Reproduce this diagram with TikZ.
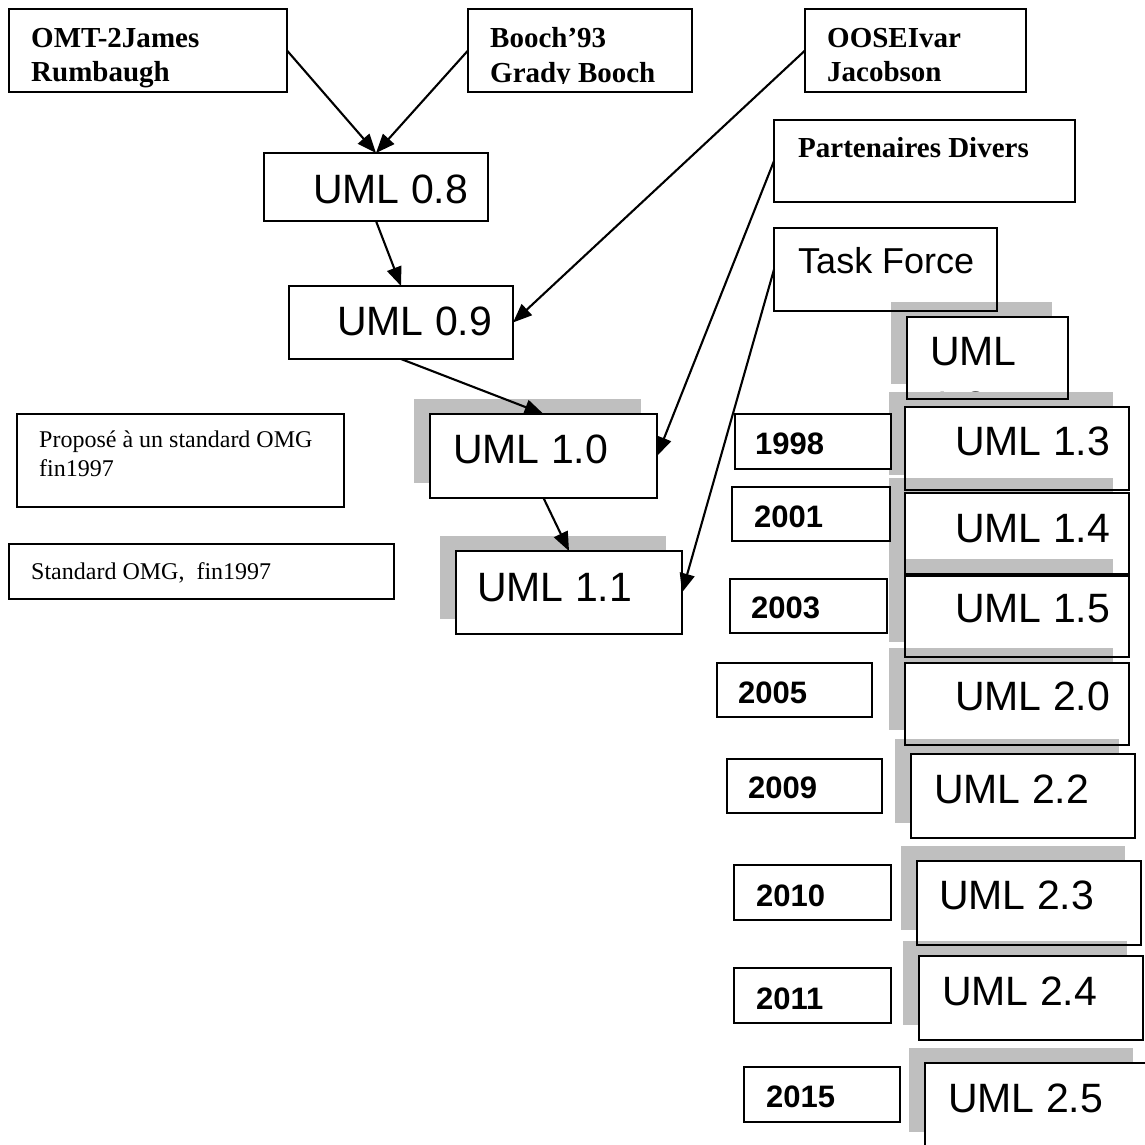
\documentclass[tikz,border=0pt]{standalone}
\usepackage{fontspec}
\setmainfont{Liberation Serif}
\newfontfamily\arialfont{Liberation Sans}
\usetikzlibrary{arrows.meta,shadows,calc}
\definecolor{shade}{gray}{0.75}

\tikzset{
  box/.style={draw=black, line width=1.8pt, fill=white, rectangle,
              inner sep=0pt, outer sep=0pt, anchor=north west},
  shaded/.style={general shadow={fill=shade, shadow xshift=-16pt, shadow yshift=15pt}},
  umltxt/.style={anchor=base west, inner sep=0pt, font=\arialfont\fontsize{41}{49}\selectfont},
  yeartxt/.style={anchor=base west, inner sep=0pt, font=\arialfont\bfseries\fontsize{31}{37}\selectfont},
  headtxt/.style={anchor=base west, inner sep=0pt, font=\bfseries\fontsize{29}{34}\selectfont},
  notetxt/.style={anchor=base west, inner sep=0pt, font=\fontsize{24}{29}\selectfont},
  link/.style={line width=2.1pt, -{Triangle[length=19pt,width=15pt]}},
  rim/.style={draw=black, line width=1.8pt},
}

\begin{document}
\begin{tikzpicture}[x=1pt, y=-1pt]
\useasboundingbox (0,0) rectangle (1145,1144);
\fill[white] (0,0) rectangle (1145,1144);
\clip (0,0) rectangle (1145,1144);

% ---- origins ----
\node[box, minimum width=278pt, minimum height=83pt] (omt) at (9,9) {};
\begin{scope}
  \clip (9,9) rectangle (287,89);
  \node[headtxt] (omt1) at (31,47) {OMT-2James};
  \node[headtxt] (omt2) at (31,81) {Rumbaugh};
\end{scope}

\node[box, minimum width=224pt, minimum height=83pt] (booch) at (468,9) {};
\begin{scope}
  \clip (468,9) rectangle (692,83);
  \node[headtxt] (booch1) at (490,47) {Booch’93};
  \node[headtxt] (booch2) at (490,82) {Grady Booch};
\end{scope}

\node[box, minimum width=221pt, minimum height=83pt] (oose) at (805,9) {};
\begin{scope}
  \clip (805,9) rectangle (1026,89);
  \node[headtxt] (oose1) at (827,47) {OOSEIvar};
  \node[headtxt] (oose2) at (827,81) {Jacobson};
\end{scope}

\node[box, minimum width=301pt, minimum height=82pt] (part) at (774,120) {};
\node[headtxt] (partt) at (798,157) {Partenaires Divers};

\node[box, minimum width=223pt, minimum height=83pt] (task) at (774,228) {};
\node[umltxt, font=\arialfont\fontsize{36}{43}\selectfont] (taskt) at (798,273) {Task Force};

% ---- first versions ----
\node[box, minimum width=224pt, minimum height=68pt] (u08) at (264,153) {};
\node[umltxt] (u08t) at (313,203) {UML 0.8};

\node[box, minimum width=224pt, minimum height=73pt] (u09) at (289,286) {};
\node[umltxt] (u09t) at (337,335) {UML 0.9};

\node[box, shaded, minimum width=227pt, minimum height=84pt] (u10) at (430,414) {};
\node[umltxt] (u10t) at (453,463) {UML 1.0};

\node[box, shaded, minimum width=226pt, minimum height=83pt] (u11) at (456,551) {};
\node[umltxt] (u11t) at (477,601) {UML 1.1};

% ---- notes ----
\node[box, minimum width=327pt, minimum height=93pt] (prop) at (17,414) {};
\node[notetxt] (prop1) at (39,447) {Proposé à un standard OMG};
\node[notetxt] (prop2) at (39,476) {fin1997};

\node[box, minimum width=385pt, minimum height=55pt] (std) at (9,544) {};
\node[notetxt] (stdt) at (31,579) {Standard OMG,\ \ fin1997};

% ---- later versions ----
\node[box, shaded, minimum width=161pt, minimum height=82pt] (u12) at (907,317) {};
\begin{scope}
  \clip (907,317) rectangle (1068,397);
  \node[umltxt] (u12a) at (930,365) {UML};
  \node[umltxt] (u12b) at (930,420) {1.2};
\end{scope}

\node[box, shaded, minimum width=224pt, minimum height=83pt] (u13) at (905,407) {};
\node[umltxt] (u13t) at (955,455) {UML 1.3};

\node[box, shaded, minimum width=224pt, minimum height=83pt] (u14) at (905,493) {};
\node[umltxt] (u14t) at (955,542) {UML 1.4};

\node[box, shaded, minimum width=224pt, minimum height=83pt] (u15) at (905,574) {};
\node[umltxt] (u15t) at (955,622) {UML 1.5};

\node[box, shaded, minimum width=224pt, minimum height=82pt] (u20) at (905,663) {};
\node[umltxt] (u20t) at (955,710) {UML 2.0};

\node[box, shaded, minimum width=224pt, minimum height=84pt] (u22) at (911,754) {};
\node[umltxt] (u22t) at (934,803) {UML 2.2};

\node[box, shaded, minimum width=224pt, minimum height=84pt] (u23) at (917,861) {};
\node[umltxt] (u23t) at (939,909) {UML 2.3};

\node[box, shaded, minimum width=224pt, minimum height=84pt] (u24) at (919,956) {};
\node[umltxt] (u24t) at (942,1005) {UML 2.4};

\node[box, shaded, minimum width=224pt, minimum height=84pt] (u25) at (925,1063) {};
\node[umltxt] (u25t) at (948,1112) {UML 2.5};

% ---- years ----
\node[box, minimum width=156pt, minimum height=55pt] (y98) at (735,414) {};
\node[yeartxt] (y98t) at (755,454) {1998};
\node[box, minimum width=158pt, minimum height=54pt] (y01) at (732,487) {};
\node[yeartxt] (y01t) at (754,527) {2001};
\node[box, minimum width=157pt, minimum height=54pt] (y03) at (730,579) {};
\node[yeartxt] (y03t) at (751,618) {2003};
\node[box, minimum width=155pt, minimum height=54pt] (y05) at (717,663) {};
\node[yeartxt] (y05t) at (738,703) {2005};
\node[box, minimum width=155pt, minimum height=54pt] (y09) at (727,759) {};
\node[yeartxt] (y09t) at (748,798) {2009};
\node[box, minimum width=157pt, minimum height=55pt] (y10) at (734,865) {};
\node[yeartxt] (y10t) at (756,906) {2010};
\node[box, minimum width=157pt, minimum height=55pt] (y11) at (734,968) {};
\node[yeartxt] (y11t) at (756,1009) {2011};
\node[box, minimum width=156pt, minimum height=55pt] (y15) at (744,1067) {};
\node[yeartxt] (y15t) at (766,1107) {2015};

% borders stay visible over the next box's shadow
\foreach \n in {task,u12,u13,u14,u15,u20,u22,u23,u24,u25}
  \draw[rim] (\n.north west) rectangle (\n.south east);

% ---- connectors ----
\draw[link] (omt.east) -- (u08.north);
\draw[link] (booch.west) -- (u08.north);
\draw[link] (u08.south) -- (u09.north);
\draw[link] (oose.west) -- (u09.east);
\draw[link] (u09.south) -- (u10.north);
\draw[link] (part.west) -- (u10.east);
\draw[link] (u10.south) -- (u11.north);
\draw[link] (task.west) -- (u11.east);
\end{tikzpicture}
\end{document}
